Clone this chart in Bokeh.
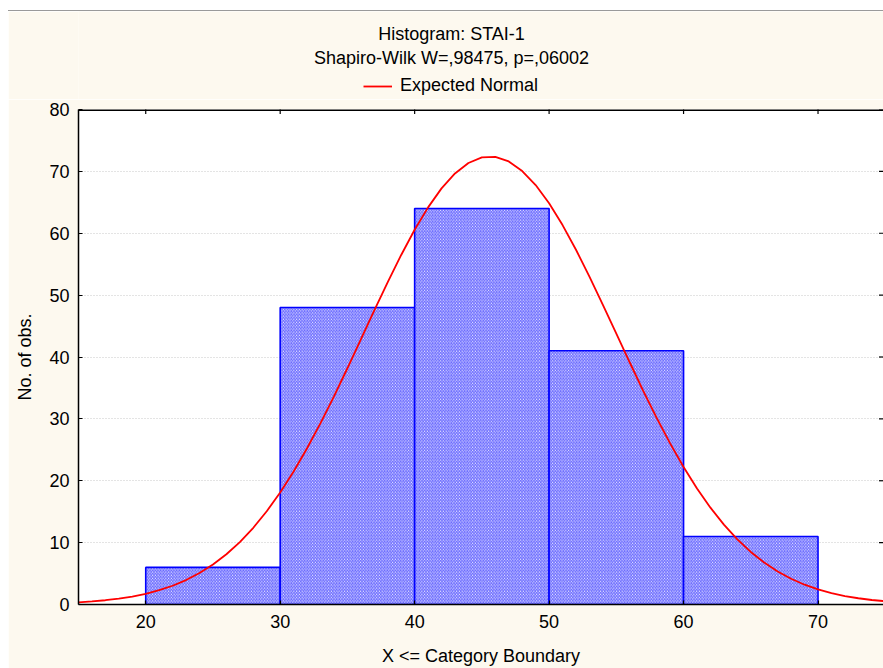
import math
from bokeh.plotting import figure
from bokeh.layouts import column
from bokeh.models import (Range1d, FixedTicker, Label, Legend, LegendItem, Span,
                          ColumnDataSource)
from bokeh.embed import file_html
from bokeh.resources import INLINE

# ---- data ----
bin_left = [20, 30, 40, 50, 60]
bin_right = [30, 40, 50, 60, 70]
counts = [6, 48, 64, 41, 11]

curve_x = list(range(15, 76))
curve_y = [0.35, 0.49, 0.69, 0.95, 1.29, 1.73, 2.31, 3.03, 3.95, 5.08,
           6.46, 8.12, 10.09, 12.40, 15.07, 18.11, 21.50, 25.25, 29.32, 33.64,
           38.18, 42.84, 47.52, 52.11, 56.49, 60.56, 64.18, 67.25, 69.67, 71.35,
           72.25, 72.33, 71.60, 70.06, 67.79, 64.84, 61.32, 57.33, 53.00, 48.44,
           43.77, 39.11, 34.54, 30.16, 26.04, 22.23, 18.76, 15.65, 12.91, 10.53,
           8.49, 6.77, 5.34, 4.16, 3.20, 2.44, 1.84, 1.37, 1.01, 0.73, 0.53]

x_ticks = [20, 30, 40, 50, 60, 70]
y_ticks = [0, 10, 20, 30, 40, 50, 60, 70, 80]
x_min, x_max = 15, 74.87
y_min, y_max = 0, 80

title_1 = "Histogram: STAI-1"
title_2 = "Shapiro-Wilk W=,98475, p=,06002"
legend_label = "Expected Normal"
x_label = "X <= Category Boundary"
y_label = "No. of obs."

FONT = "Liberation Sans"
FS = "18px"
BG = "#FDF9EF"
W = 875

# ---------------- header (titles + legend) ----------------
head = figure(width=W, height=88, output_backend="svg", toolbar_location=None,
              x_range=Range1d(0, 805), y_range=Range1d(0, 88),
              min_border=0, min_border_left=70, border_fill_color=BG,
              background_fill_color=BG, outline_line_color=None,
              x_axis_type=None, y_axis_type=None)
head.grid.visible = False

for txt, yb in ((title_1, 66), (title_2, 42)):
    head.add_layout(Label(x=373, y=yb, x_units="screen", y_units="screen", text=txt,
                          text_align="center", text_baseline="alphabetic",
                          text_font=FONT, text_font_size=FS, text_color="black"))

# a one-point line (draws nothing) that only supplies the legend's red stroke
legend_glyph = head.line(x=curve_x[:1], y=curve_y[:1], line_color="#FF0000", line_width=1.8)
legend = Legend(items=[LegendItem(label=legend_label, renderers=[legend_glyph])],
                location=(285, 3), orientation="horizontal",
                border_line_color=None, background_fill_alpha=0,
                padding=0, margin=0, spacing=0, glyph_width=29, glyph_height=20,
                label_standoff=8, label_text_font=FONT,
                label_text_font_size=FS, label_text_color="black")
head.add_layout(legend)

# ---------------- main chart ----------------
p = figure(width=W, height=569, output_backend="svg", toolbar_location=None,
           x_range=Range1d(x_min, x_max), y_range=Range1d(y_min, y_max),
           min_border_left=70, min_border_right=0, min_border_top=10, min_border_bottom=63,
           border_fill_color=BG, background_fill_color="white",
           outline_line_color=None)

for ax in (p.xaxis[0], p.yaxis[0]):
    ax.axis_line_color = "black"
    ax.axis_line_width = 1.5
    ax.major_tick_in = 4
    ax.major_tick_out = 0
    ax.minor_tick_line_color = None
    ax.major_tick_line_color = "black"
    ax.major_tick_line_width = 1.2
    ax.major_label_text_font = FONT
    ax.major_label_text_font_size = FS
    ax.major_label_text_color = "black"
    ax.axis_label_text_font = FONT
    ax.axis_label_text_font_size = FS
    ax.axis_label_text_font_style = "normal"
    ax.axis_label_text_color = "black"
p.xaxis[0].ticker = FixedTicker(ticks=x_ticks)
p.yaxis[0].ticker = FixedTicker(ticks=y_ticks)
p.xaxis[0].axis_label = x_label
p.yaxis[0].axis_label = y_label
p.xaxis[0].major_label_standoff = 10
p.yaxis[0].major_label_standoff = 9
p.xaxis[0].axis_label_standoff = 15
p.yaxis[0].axis_label_standoff = 11

p.xgrid.grid_line_color = None
p.ygrid.grid_line_color = "#c8c8c8"
p.ygrid.grid_line_dash = "1 2"
p.ygrid.grid_line_width = 1

src = ColumnDataSource(dict(left=bin_left, right=bin_right, top=counts,
                            bottom=[0] * len(counts)))
p.quad(left="left", right="right", top="top", bottom="bottom", source=src,
       fill_color="white", line_color="#0000FF", line_width=1.6,
       hatch_pattern="\\", hatch_color="#0000FF", hatch_scale=3.2, hatch_weight=1,
       hatch_alpha=0.65)

p.line(curve_x, curve_y, line_color="#FF0000", line_width=1.8)

# top frame line and the inward tick marks of the top and right frame edges
p.add_layout(Span(location=y_max, dimension="width", line_color="black", line_width=3))
p.scatter(x=x_ticks, y=[y_max] * len(x_ticks), marker="dash", angle=math.pi / 2,
          size=9, line_color="black", line_width=1.2)
p.scatter(x=[x_max] * len(y_ticks), y=y_ticks, marker="dash",
          size=9, line_color="black", line_width=1.2)

layout = column(head, p, spacing=0)
layout.margin = (10, 0, 0, 8)
layout.styles = {"border-top": "1px solid #9a9a9a"}

open("out.html", "w").write(file_html(layout, INLINE))
